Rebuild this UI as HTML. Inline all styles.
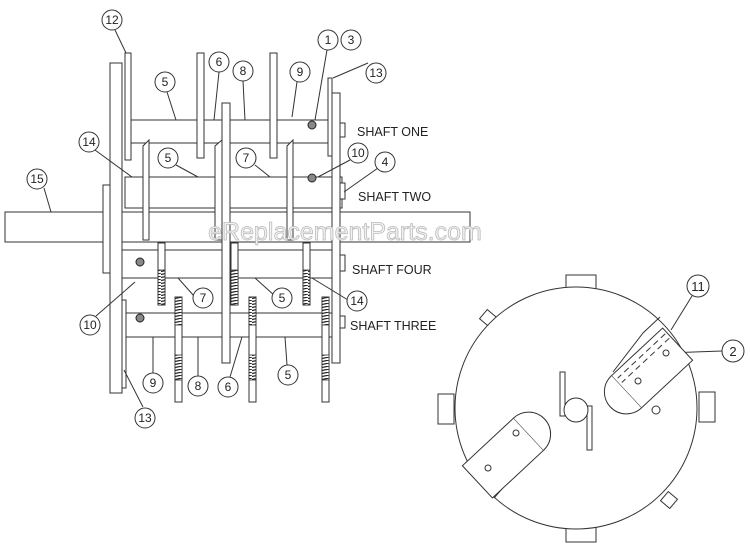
<!DOCTYPE html>
<html><head><meta charset="utf-8"><style>
html,body{margin:0;padding:0;background:#fff;}
svg{display:block}
text{font-family:"Liberation Sans",sans-serif;fill:#222}
</style></head><body>
<svg width="750" height="550" viewBox="0 0 750 550" xmlns="http://www.w3.org/2000/svg">
<defs>
<pattern id="h" width="7" height="3" patternUnits="userSpaceOnUse"><rect width="7" height="3" fill="#fff"/><line x1="0" y1="1.5" x2="7" y2="0" stroke="#222" stroke-width="1.2"/></pattern>
</defs>
<g fill="#fff" stroke="#333" stroke-width="1">
<rect x="5" y="212" width="465" height="30"/>
<rect x="103" y="185" width="8" height="88"/>
<rect x="125" y="120" width="210" height="23"/>
<rect x="125" y="177" width="217" height="31"/>
<rect x="120" y="250" width="217" height="28"/>
<rect x="125" y="313" width="210" height="24"/>
<rect x="340" y="123" width="5" height="14"/>
<rect x="340" y="183" width="5" height="16"/>
<rect x="340" y="255" width="5" height="16"/>
<rect x="340" y="316" width="5" height="12"/>
<rect x="110" y="63" width="12" height="330"/>
<rect x="125" y="53" width="6" height="107"/>
<rect x="122" y="300" width="4" height="88"/>
<rect x="222" y="103" width="8" height="260"/>
<rect x="332" y="93" width="8" height="270"/>
<rect x="328" y="78" width="4" height="78"/>
<rect x="197" y="53" width="7" height="105"/>
<rect x="270" y="53" width="7" height="105"/>
<path d="M143 146 L149 140 L149 240 L143 240 Z"/>
<path d="M215 146 L222 140 L222 240 L215 240 Z"/>
<path d="M287 146 L293 140 L293 240 L287 240 Z"/>
<rect x="158" y="243" width="7" height="62"/>
<rect x="231" y="243" width="7" height="62"/>
<rect x="303" y="243" width="7" height="62"/>
<rect x="175" y="297" width="7" height="105"/>
<rect x="249" y="297" width="7" height="105"/>
<rect x="322" y="297" width="7" height="105"/>
</g>
<g fill="url(#h)" stroke="#333" stroke-width="0.8">
<rect x="158" y="270" width="7" height="35"/>
<rect x="231" y="270" width="7" height="35"/>
<rect x="303" y="270" width="7" height="35"/>
<rect x="175" y="297" width="7" height="28"/><rect x="175" y="355" width="7" height="25"/>
<rect x="249" y="297" width="7" height="28"/><rect x="249" y="355" width="7" height="25"/>
<rect x="322" y="297" width="7" height="28"/><rect x="322" y="355" width="7" height="25"/>
</g>
<g fill="#888" stroke="#222">
<circle cx="312" cy="125" r="4"/><circle cx="312" cy="178" r="4"/>
<circle cx="140" cy="262" r="4"/><circle cx="140" cy="318" r="4"/>
</g>
<text x="345" y="240" font-size="25" text-anchor="middle" stroke="#bbb" stroke-width="0.8" style="fill:#f2f2f2">eReplacementParts.com</text>
<g font-size="12.5">
<text x="357" y="136">SHAFT ONE</text>
<text x="358" y="201">SHAFT TWO</text>
<text x="352" y="274">SHAFT FOUR</text>
<text x="350" y="330">SHAFT THREE</text>
</g>
<g stroke="#333" stroke-width="1" fill="none">
<path d="M115 30 L126 53"/><path d="M167 92 L176 120"/><path d="M219 72 L214 120"/>
<path d="M243 81 L245 120"/><path d="M297 82 L292 117"/><path d="M327 50 L315 120"/>
<path d="M368 63 L333 78"/><path d="M95 150 L132 177"/><path d="M176 165 L198 177"/>
<path d="M255 165 L270 177"/><path d="M350 160 L318 177"/><path d="M378 168 L344 192"/>
<path d="M44 188 L51 212"/><path d="M96 316 L135 282"/><path d="M194 296 L178 278"/>
<path d="M275 296 L255 278"/><path d="M348 300 L312 278"/><path d="M153 373 L153 337"/>
<path d="M198 376 L198 337"/><path d="M230 377 L242 337"/><path d="M287 365 L285 337"/>
<path d="M143 407 L124 370"/><path d="M692 296 L671 330"/><path d="M722 351 L666 353"/>
</g>
<g fill="#fff" stroke="#333" stroke-width="1">
<circle cx="112" cy="20" r="10"/><circle cx="165" cy="82" r="10"/><circle cx="219" cy="62" r="10"/>
<circle cx="243" cy="71" r="10"/><circle cx="300" cy="72" r="10"/><circle cx="328" cy="40" r="10"/>
<circle cx="351" cy="40" r="10"/><circle cx="376" cy="73" r="10"/><circle cx="89" cy="142" r="10"/>
<circle cx="168" cy="158" r="10"/><circle cx="246" cy="158" r="10"/><circle cx="358" cy="153" r="10"/>
<circle cx="385" cy="162" r="10"/><circle cx="37" cy="179" r="10"/><circle cx="90" cy="325" r="10"/>
<circle cx="203" cy="298" r="10"/><circle cx="282" cy="298" r="10"/><circle cx="357" cy="301" r="10"/>
<circle cx="153" cy="383" r="10"/><circle cx="198" cy="386" r="10"/><circle cx="228" cy="387" r="10"/>
<circle cx="288" cy="375" r="10"/><circle cx="145" cy="418" r="10"/>
<circle cx="698" cy="286" r="11"/><circle cx="733" cy="351" r="11"/>
</g>
<g font-size="12" text-anchor="middle">
<text x="112" y="24">12</text><text x="165" y="86">5</text><text x="219" y="66">6</text>
<text x="243" y="75">8</text><text x="300" y="76">9</text><text x="328" y="44">1</text>
<text x="351" y="44">3</text><text x="376" y="77">13</text><text x="89" y="146">14</text>
<text x="168" y="162">5</text><text x="246" y="162">7</text><text x="358" y="157">10</text>
<text x="385" y="166">4</text><text x="37" y="183">15</text><text x="90" y="329">10</text>
<text x="203" y="302">7</text><text x="282" y="302">5</text><text x="357" y="305">14</text>
<text x="153" y="387">9</text><text x="198" y="390">8</text><text x="228" y="391">6</text>
<text x="288" y="379">5</text><text x="145" y="422">13</text>
<text x="698" y="291" font-size="13">11</text><text x="733" y="356" font-size="13">2</text>
</g>
<g fill="#fff" stroke="#333" stroke-width="1">
<rect x="566" y="275" width="30" height="16"/>
<rect x="566" y="526" width="30" height="16"/>
<rect x="438" y="394" width="16" height="30"/>
<rect x="699" y="392" width="16" height="30"/>
<rect x="482" y="312" width="12" height="12" transform="rotate(40 488 318)"/>
<rect x="663" y="494" width="12" height="12" transform="rotate(40 669 500)"/>
<circle cx="576" cy="408" r="121"/>
<rect x="560" y="372" width="5" height="44"/>
<rect x="587" y="406" width="5" height="44"/>
<circle cx="576" cy="410" r="12"/>
<path d="M613 372 L643 333 L660 317"/>
<path d="M539 443 L508 482 L494 498"/>
<g transform="rotate(-43 652 368)">
<rect x="617" y="346" width="70" height="44"/>
<path d="M617 346 A22 22 0 0 0 617 390"/>
<line x1="685" y1="352" x2="620" y2="352" stroke-dasharray="6 4"/>
<line x1="685" y1="358" x2="620" y2="358" stroke-dasharray="6 4"/>
</g>
<g transform="rotate(-43 503 458)">
<rect x="468" y="436" width="70" height="44"/>
<path d="M538 436 A22 22 0 0 1 538 480"/>
</g>
<circle cx="666" cy="353" r="3"/><circle cx="638" cy="381" r="3"/><circle cx="656" cy="410" r="4"/>
<circle cx="516" cy="433" r="3"/><circle cx="488" cy="468" r="3"/>
</g>
</svg>
</body></html>
